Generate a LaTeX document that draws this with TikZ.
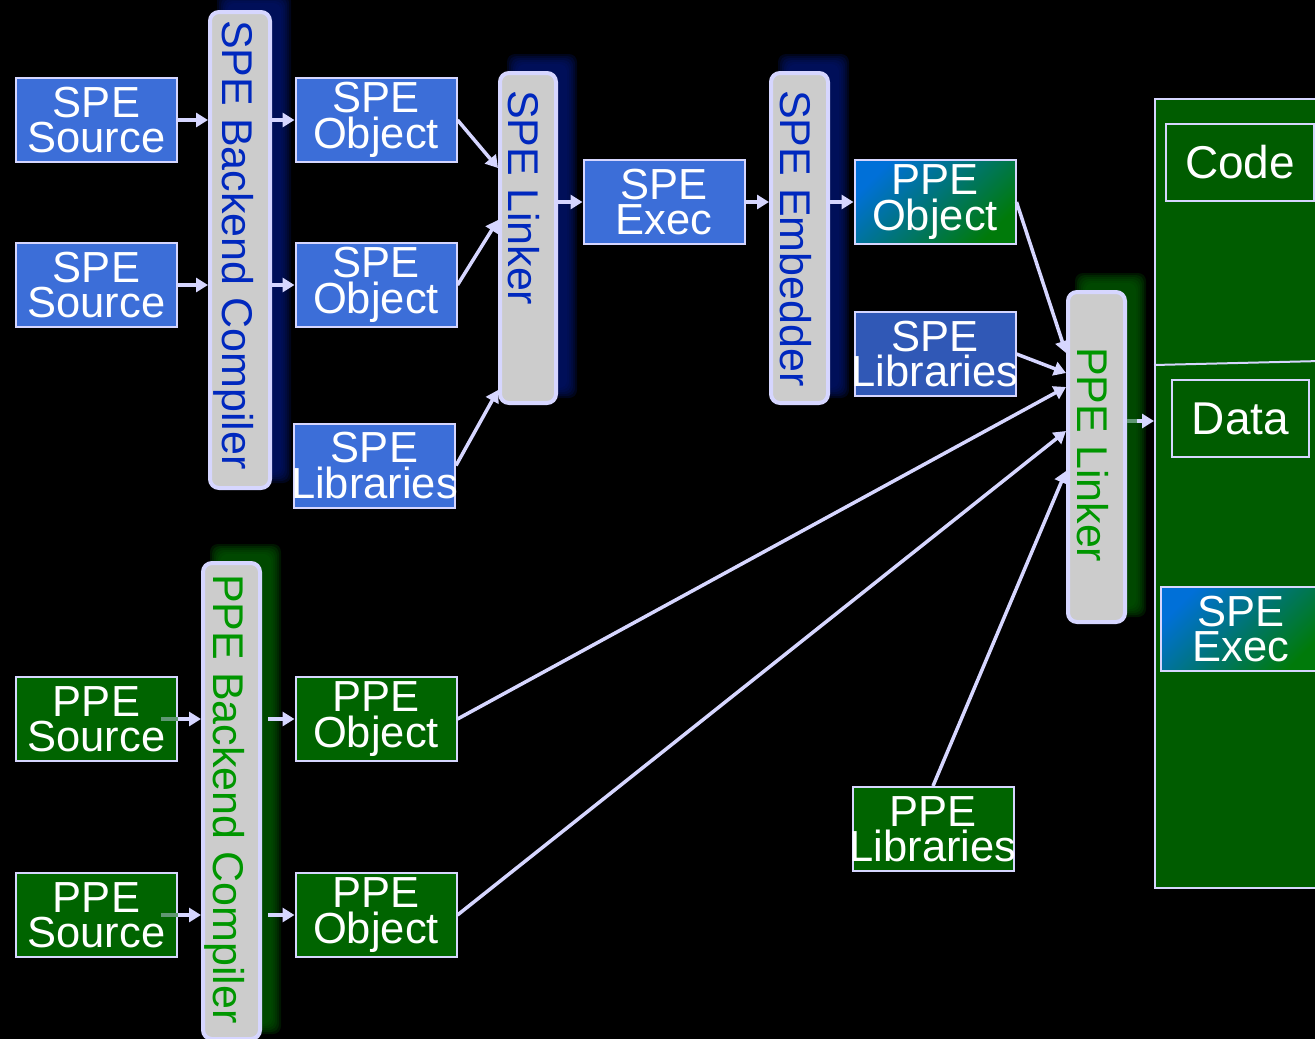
\documentclass[tikz,border=0pt]{standalone}
\usepackage{fontspec}
\setmainfont{Liberation Sans}
\usetikzlibrary{arrows.meta}

\pgfdeclarelayer{background}
\pgfsetlayers{background,main}

\definecolor{speblue}{RGB}{60,110,216}
\definecolor{libblue}{RGB}{48,88,182}
\definecolor{ppegreen}{RGB}{0,100,0}
\definecolor{imggreen}{RGB}{0,92,0}
\definecolor{edge}{RGB}{214,214,255}
\definecolor{barfill}{RGB}{204,204,204}
\definecolor{bluetext}{RGB}{0,40,190}
\definecolor{greentext}{RGB}{0,150,0}
\definecolor{glowblue}{RGB}{0,20,110}
\definecolor{glowgreen}{RGB}{0,90,0}
\definecolor{mixblue}{RGB}{0,112,216}
\definecolor{mixgreen}{RGB}{0,122,10}

\newcommand{\boxfont}{\fontsize{43.5}{35.5}\selectfont}
\newcommand{\barfont}{\fontsize{43}{43}\selectfont}
\newcommand{\bigfont}{\fontsize{46}{46}\selectfont}
% the long word sticks out of its box a little
\newcommand{\libs}{\makebox[150pt]{Libraries}}

% soft halo behind a tool bar, pushed up and to the right
\newcommand{\halo}[2]{%
  \foreach \e in {0,2,4,6,8,10}
    \fill[#2, opacity=0.25, rounded corners=8pt]
      ([xshift=19pt-\e pt, yshift=17pt-\e pt]#1.south west) rectangle
      ([xshift=9pt+\e pt, yshift=7pt+\e pt]#1.north east);
}

\begin{document}
\begin{tikzpicture}[
    x=1pt, y=-1pt,
    box/.style={draw=edge, line width=2pt, minimum width=161pt, minimum height=84pt,
      inner sep=0pt, align=center, text=white, font=\boxfont},
    spebox/.style={box, fill=speblue},
    ppebox/.style={box, fill=ppegreen},
    mixbox/.style={box, top color=mixblue, bottom color=mixgreen, shading angle=45},
    tool/.style={draw=edge, line width=4pt, fill=barfill, rounded corners=9pt,
      minimum width=57pt, inner sep=0pt},
    toollabel/.style={rotate=-90, anchor=base west, inner sep=0pt, text=#1, font=\barfont},
    flow/.style={-{Triangle[length=12pt,width=14pt]}, draw=edge, line width=3.5pt},
    stub/.style={draw=edge!45!ppegreen, line width=3.5pt}
  ]
    \useasboundingbox (0,0) rectangle (1315,1039);

    % SPE side
    \node[spebox] (ss1) at (96.5,120) {SPE\\Source};
    \node[spebox] (ss2) at (96.5,285) {SPE\\Source};
    \node[tool, minimum width=60pt, minimum height=476pt] (bcs) at (240,250) {};
    \node[toollabel=bluetext] (bcs-t) at (222,20) {SPE Backend Compiler};
    \node[spebox] (so1) at (376,120) {SPE\\Object};
    \node[spebox] (so2) at (376,285) {SPE\\Object};
    \node[spebox] (sl1) at (374.5,465.5) {SPE\\\libs};
    \node[tool, minimum width=56pt, minimum height=330pt] (slk) at (528,238) {};
    \node[toollabel=bluetext] (slk-t) at (508,90) {SPE Linker};
    \node[spebox] (se) at (664,202) {SPE\\Exec};
    \node[tool, minimum height=330pt] (emb) at (799.5,238) {};
    \node[toollabel=bluetext] (emb-t) at (780,90) {SPE Embedder};
    \node[mixbox] (po) at (935,202) {PPE\\Object};
    \node[box, fill=libblue] (sl2) at (935,354) {SPE\\\libs};

    % PPE side
    \node[ppebox] (ps1) at (96.5,719) {PPE\\Source};
    \node[ppebox] (ps2) at (96.5,915) {PPE\\Source};
    \node[tool, minimum height=476pt] (bcp) at (231.5,801) {};
    \node[toollabel=greentext] (bcp-t) at (213,574) {PPE Backend Compiler};
    \node[ppebox] (pb1) at (376,719) {PPE\\Object};
    \node[ppebox] (pb2) at (376,915) {PPE\\Object};
    \node[ppebox] (pl) at (933,829) {PPE\\\libs};
    \node[tool, minimum height=330pt] (plk) at (1096.5,457) {};
    \node[toollabel=greentext] (plk-t) at (1077,347) {PPE Linker};

    % program image
    \node[draw=edge, line width=2pt, fill=imggreen, minimum width=165pt,
      minimum height=789pt, inner sep=0pt] (img) at (1237.5,493.5) {};
    \draw[edge, line width=2pt] (img.west |- 0,365) -- (img.east |- 0,361);
    \node[box, fill=imggreen, minimum width=148pt, minimum height=77pt,
      font=\bigfont] (code) at (1240,162.5) {Code};
    \node[box, fill=imggreen, minimum width=137pt, minimum height=77pt,
      font=\bigfont] (data) at (1240.5,418.5) {Data};
    \node[mixbox] (ex) at (1241,629) {SPE\\Exec};

    % halos behind the bars
    \begin{pgfonlayer}{background}
      \fill[black] (0,0) rectangle (1315,1039);
      \halo{bcs}{glowblue}
      \halo{slk}{glowblue}
      \halo{emb}{glowblue}
      \halo{bcp}{glowgreen}
      \halo{plk}{glowgreen}
    \end{pgfonlayer}

    % compile flow
    \foreach \s/\o in {ss1/so1, ss2/so2} {
      \draw[flow] (\s.east) -- (\s.east -| bcs.west);
      \draw[flow] (\s.east -| bcs.east) -- (\o.west);
    }
    \foreach \s/\o in {ps1/pb1, ps2/pb2} {
      \draw[stub] ([xshift=-17pt]\s.east) -- (\s.east);
      \draw[flow] (\s.east) -- (\s.east -| bcp.west);
      \draw[flow] ([xshift=6pt]\s.east -| bcp.east) -- (\o.west);
    }

    % linking
    \draw[flow] (so1.east) -- ([yshift=-97pt]slk.north west);
    \draw[flow] (so2.east) -- ([yshift=-149pt]slk.north west);
    \draw[flow] (sl1.east) -- ([yshift=-319pt]slk.north west);
    \draw[flow] (slk.east |- se.west) -- (se.west);
    \draw[flow] (se.east) -- (se.east -| emb.west);
    \draw[flow] (se.east -| emb.east) -- (po.west);

    \draw[flow] (po.east) -- ([yshift=-63pt]plk.north west);
    \draw[flow] (sl2.east) -- ([yshift=-83pt]plk.north west);
    \draw[flow] (pb1.east) -- ([yshift=-97pt]plk.north west);
    \draw[flow] (pb2.east) -- ([yshift=-141pt]plk.north west);
    \draw[flow] (pl.north) -- ([yshift=-181pt]plk.north west);
    \draw[stub] ([yshift=-131pt]plk.north east) coordinate (out) -- ++(10,0);
    \draw[flow] ([xshift=10pt]out) -- (out -| img.west);
\end{tikzpicture}
\end{document}
